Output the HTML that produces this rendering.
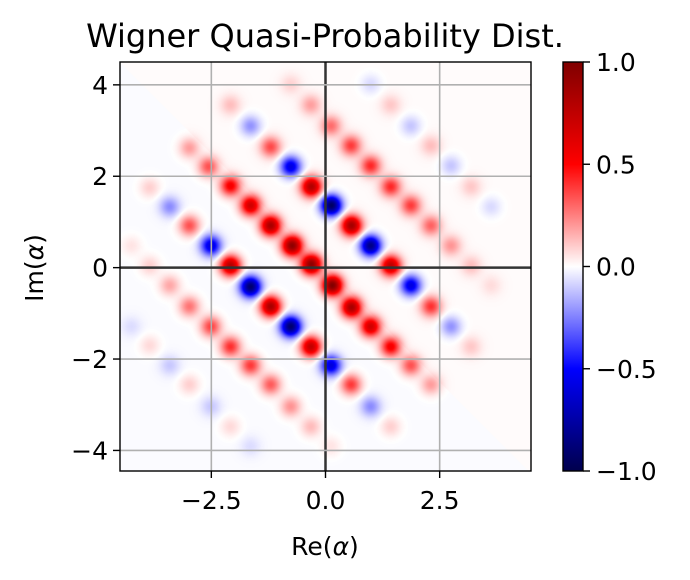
<!DOCTYPE html>
<html><head><meta charset="utf-8"><style>
html,body{margin:0;padding:0;background:#fff;width:690px;height:580px;overflow:hidden}
#wrap{position:relative;width:690px;height:580px}
canvas{position:absolute;left:120px;top:62px}
svg{position:absolute;left:0;top:0}
text{font-family:"DejaVu Sans","Liberation Sans",sans-serif;fill:#000}
</style></head><body>
<div id="wrap">
<canvas id="heat" width="411" height="409"></canvas>
<svg id="ov" width="690" height="580"></svg>
</div>
<script>
// blob data: position (Re, Im) and value
const blobX=[-2.98,-2.56,-2.08,-1.64,-1.20,-0.73,-0.31,0.15,0.57,0.99,1.43,1.87,2.31,
-2.08,-1.64,-1.20,-0.76,-0.31,0.13,0.57,0.99,1.43,1.87,2.31,2.75,3.19,
-3.85,-3.41,-2.98,-2.51,-2.08,-1.64,-1.20,-0.76,-0.32,0.12,0.56,0.99,1.43,
-0.76,-0.32,0.12,0.56,0.99,1.43,1.87,2.31,2.75,3.19,3.63,
-4.25,-3.85,-3.41,-2.98,-2.51,-2.08,-1.64,-1.20,-0.76,-0.32,0.12,
0.99,1.43,1.87,2.31,2.75,3.19,3.63,
-3.41,-2.98,-2.51,-2.08,-1.64,-3.85,-4.25];
const blobY=[2.62,2.21,1.79,1.36,0.92,0.48,0.07,-0.39,-0.87,-1.29,-1.73,-2.14,-2.56,
3.56,3.10,2.64,2.21,1.77,1.36,0.92,0.48,0.04,-0.39,-0.85,-1.29,-1.73,
1.75,1.33,0.92,0.48,0.04,-0.42,-0.85,-1.29,-1.73,-2.14,-2.56,-3.04,-3.48,
4.01,3.56,3.10,2.67,2.23,1.77,1.36,0.92,0.48,0.04,-0.39,
0.48,0.04,-0.39,-0.85,-1.29,-1.73,-2.14,-2.56,-3.04,-3.48,-3.91,
4.01,3.56,3.10,2.67,2.23,1.77,1.33,
-2.14,-2.56,-3.04,-3.48,-3.91,-1.70,-1.29];
const blobV=[0.2,0.35,0.55,0.7,0.85,0.95,0.95,1.0,0.85,0.7,0.55,0.35,0.2,
0.12,-0.22,0.35,-0.6,0.8,-0.95,0.85,-0.85,0.75,-0.6,0.4,-0.22,0.1,
0.1,-0.22,0.35,-0.6,0.8,-0.9,0.85,-0.9,0.75,-0.6,0.4,-0.22,0.1,
0.08,0.18,0.28,0.38,0.42,0.42,0.38,0.3,0.2,0.12,0.06,
0.06,0.1,0.18,0.28,0.38,0.42,0.4,0.33,0.22,0.14,0.06,
-0.08,0.1,-0.12,0.12,-0.12,0.1,-0.08,
-0.1,0.1,-0.1,0.08,-0.06,0.08,-0.06];
const xTicks=[-2.5,0,2.5], xTickLabels=["\u22122.5","0.0","2.5"];
const yTicks=[-4,-2,0,2,4], yTickLabels=["\u22124","\u22122","0","2","4"];
const cTicks=[1,0.5,0,-0.5,-1], cTickLabels=["1.0","0.5","0.0","\u22120.5","\u22121.0"];

const L=120,R=531,T=62,B=471;
const X=v=>L+(v+4.5)/9*(R-L);
const Y=v=>B-(v+4.45)/8.95*(B-T);
const CY=v=>B-(v+1)/2*(B-T);

function seismic(v){
  v=Math.max(-1,Math.min(1,v));
  let r,g,b;
  if(v<-0.5){const t=(v+1)/0.5;r=0;g=0;b=0.3+0.7*t;}
  else if(v<0){const t=(v+0.5)/0.5;r=t;g=t;b=1;}
  else if(v<0.5){const t=v/0.5;r=1;g=1-t;b=1-t;}
  else{const t=(v-0.5)/0.5;r=1-0.5*t;g=0;b=0;}
  return [Math.round(r*255),Math.round(g*255),Math.round(b*255)];
}
// heatmap
const cv=document.getElementById('heat'),ctx=cv.getContext('2d');
const W=cv.width,H=cv.height,img=ctx.createImageData(W,H);
const s=0.155;
for(let j=0;j<H;j++){for(let i=0;i<W;i++){
  const px=L+i+0.5,py=T+j+0.5;
  const x=(px-L)/(R-L)*9-4.5, y=(B-py)/(B-T)*8.95-4.45;
  let v=(x+y>0?0.008:-0.008);
  for(let k=0;k<blobX.length;k++){const dx=x-blobX[k],dy=y-blobY[k];const d=dx*dx+dy*dy;if(d<0.8)v+=blobV[k]*Math.exp(-d/(2*s*s));}
  const c=seismic(v),o=(j*W+i)*4;img.data[o]=c[0];img.data[o+1]=c[1];img.data[o+2]=c[2];img.data[o+3]=255;
}}
ctx.putImageData(img,0,0);

const svg=document.getElementById('ov'),NS='http://www.w3.org/2000/svg';
function el(tag,attrs,parent){const e=document.createElementNS(NS,tag);for(const k in attrs)e.setAttribute(k,attrs[k]);(parent||svg).appendChild(e);return e;}
// grid
xTicks.forEach((t,i)=>{
  const g=el('line',{x1:X(t),x2:X(t),y1:T,y2:B,stroke:t===0?'#333':'#b0b0b0','stroke-width':t===0?2.5:1.6});
  
  
  const tk=el('line',{x1:X(t),x2:X(t),y1:B,y2:B+7,stroke:'#000','stroke-width':1.4});
  
  
  const lb=el('text',{x:X(t),y:B+38,'text-anchor':'middle','font-size':'25'});lb.textContent=xTickLabels[i];
  
  
});
yTicks.forEach((t,i)=>{
  const g=el('line',{x1:L,x2:R,y1:Y(t),y2:Y(t),stroke:t===0?'#333':'#b0b0b0','stroke-width':t===0?2.5:1.6});
  
  
  const tk=el('line',{x1:L-7,x2:L,y1:Y(t),y2:Y(t),stroke:'#000','stroke-width':1.4});
  
  
  const lb=el('text',{x:L-12,y:Y(t)+9,'text-anchor':'end','font-size':'25'});lb.textContent=yTickLabels[i];
  
  
});
const fr=el('rect',{x:L,y:T,width:R-L,height:B-T,fill:'none',stroke:'#000','stroke-width':1.4});


// colorbar
const defs=el('defs',{});
const gr=el('linearGradient',{id:'cg',x1:0,y1:1,x2:0,y2:0},defs);
for(let k=0;k<=20;k++){const v=-1+k/10;const c=seismic(v);el('stop',{offset:(k/20),'stop-color':`rgb(${c[0]},${c[1]},${c[2]})`},gr);}
const cb=el('rect',{x:563,y:T,width:20,height:B-T,fill:'url(#cg)',stroke:'#000','stroke-width':1.4});


cTicks.forEach((t,i)=>{
  const tk=el('line',{x1:583,x2:590,y1:CY(t),y2:CY(t),stroke:'#000','stroke-width':1.4});
  
  
  const lb=el('text',{x:596,y:CY(t)+9,'font-size':'25'});lb.textContent=cTickLabels[i];
  
  
});
</script>
<svg width="690" height="580" style="position:absolute;left:0;top:0;pointer-events:none">
<text x="325" y="47" text-anchor="middle" font-size="32">Wigner Quasi-Probability Dist.</text>
<text x="325" y="555" text-anchor="middle" font-size="25">Re(<tspan font-style="italic">α</tspan>)</text>
<text transform="translate(43,268) rotate(-90)" text-anchor="middle" font-size="25">Im(<tspan font-style="italic">α</tspan>)</text>
</svg>
</body></html>
